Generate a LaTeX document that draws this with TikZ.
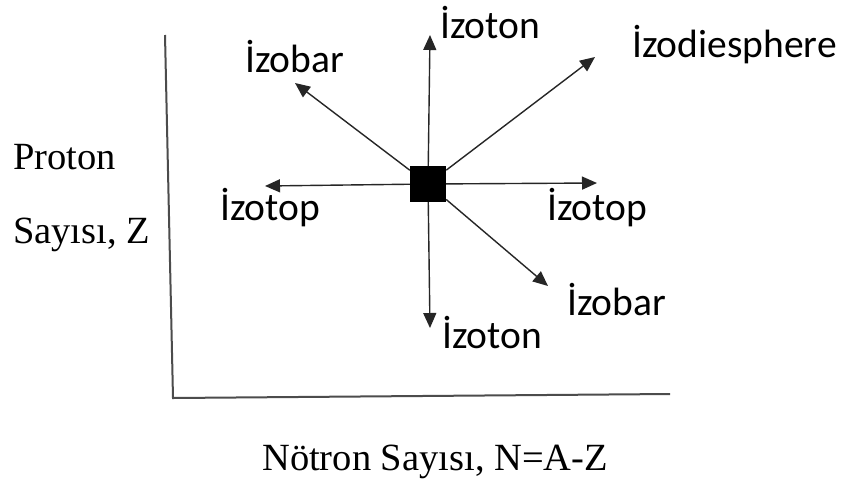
\documentclass[tikz,border=0pt]{standalone}
\usepackage{fontspec}
\setmainfont{Liberation Serif}
\newfontfamily\labfont{Carlito}
\usetikzlibrary{arrows.meta}
\begin{document}
\begin{tikzpicture}[x=1pt,y=-1pt,
  axisline/.style={line width=2pt,draw=black!70},
  arr/.style={line width=1.4pt,draw=black!85,-{Triangle[length=15pt,width=13pt]}},
  lab/.style={anchor=base west,inner sep=0pt,font=\labfont\fontsize{39.5}{46}\selectfont},
  ser/.style={anchor=base west,inner sep=0pt,font=\fontsize{38.5}{46}\selectfont}]
\useasboundingbox[fill=white] (0,0) rectangle (843,480);
% axes
\coordinate (ytop) at (165,35);
\coordinate (orig) at (173,398);
\coordinate (xend) at (670,394);
\draw[axisline] (ytop) -- (orig) -- (xend);
% central square
\node[fill=black,minimum size=36pt,inner sep=0pt] (sq) at (428,184) {};
% arrow tips
\coordinate (tU) at (430,35);
\coordinate (tD) at (430,328);
\coordinate (tL) at (265,186);
\coordinate (tR) at (597,183);
\coordinate (tUL) at (295,83);
\coordinate (tUR) at (595,57);
\coordinate (tDR) at (548,286);
\draw[arr] (sq) -- (tU);
\draw[arr] (sq) -- (tD);
\draw[arr] (sq) -- (tL);
\draw[arr] (sq) -- (tR);
\draw[arr] (sq) -- (tUL);
\draw[arr] (sq) -- (tUR);
\draw[arr] (sq) -- (tDR);
% labels
\node[lab] (l1) at (440,38) {İzoton};
\node[lab] (l2) at (245,72) {İzobar};
\node[lab] (l3) at (632,57) {İzodiesphere};
\node[lab] (l4) at (220,220) {İzotop};
\node[lab] (l5) at (547,220) {İzotop};
\node[lab] (l6) at (567,315) {İzobar};
\node[lab] (l7) at (442,348) {İzoton};
\node[ser] (p1) at (13,169) {Proton};
\node[ser] (p2) at (13,243) {Sayısı, Z};
\node[ser] (p3) at (262,470) {Nötron Sayısı, N=A-Z};
\end{tikzpicture}
\end{document}
